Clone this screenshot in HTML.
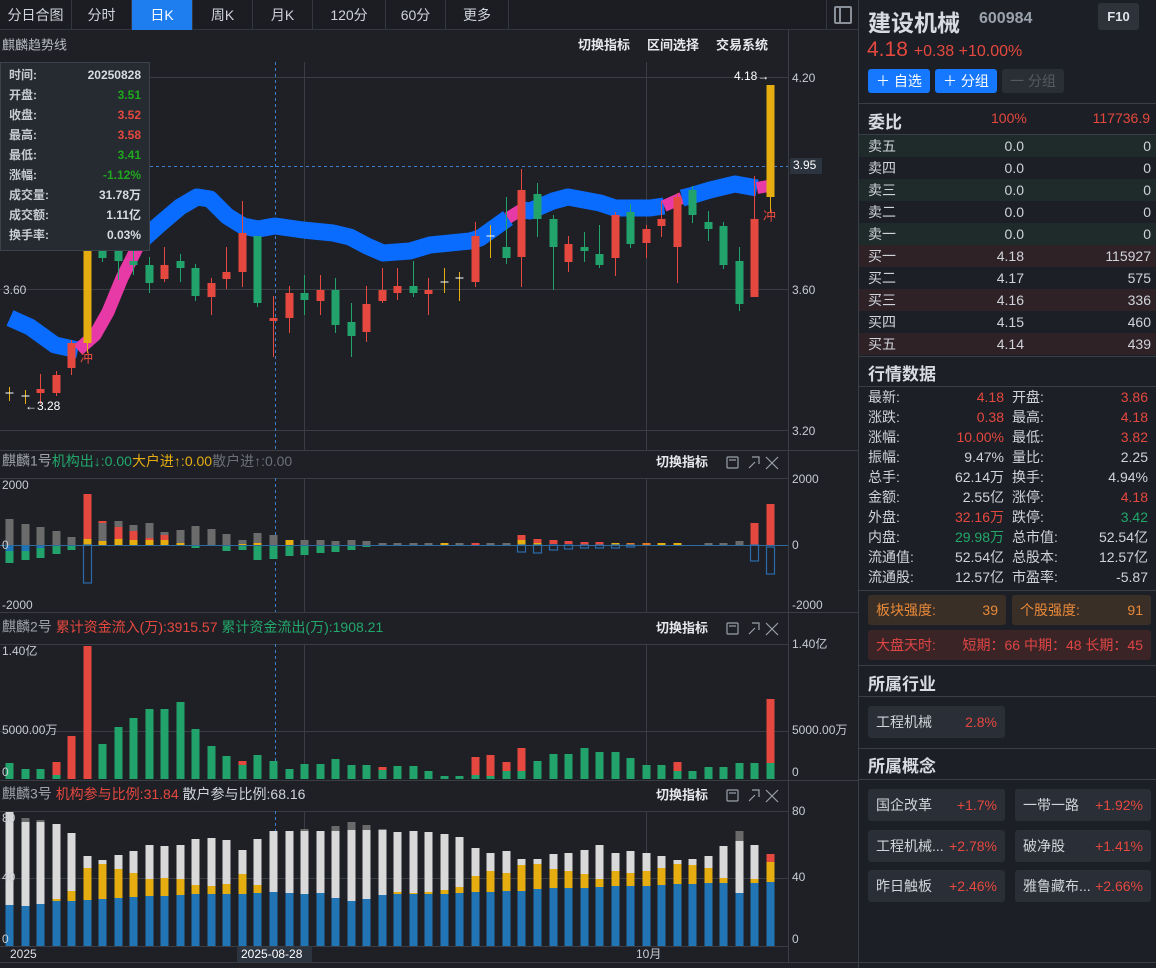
<!DOCTYPE html>
<html><head><meta charset="utf-8">
<style>
*{margin:0;padding:0;box-sizing:border-box}
body{width:1156px;height:968px;background:#1e2026;font-family:"Liberation Sans","Noto Sans CJK SC",sans-serif;color:#d0d4da;position:relative;overflow:hidden}
.a{position:absolute;white-space:nowrap}
.tabs{position:absolute;left:0;top:0;width:858px;height:30px;background:#1b1d22;border-bottom:1px solid #33373e}
.tab{position:absolute;top:0;height:30px;line-height:30px;text-align:center;font-size:14px;color:#d0d4da;border-right:1px solid #33373e}
.rp{position:absolute;left:858px;top:0;width:298px;height:968px;background:#1c1f25;border-left:1px solid #3a3e46}
.ln{position:absolute;left:0;width:298px;height:1px;background:#3a3e46}
.row{position:absolute;left:0;width:298px;height:22px;font-size:14px;line-height:22px}
.h{font-weight:bold;font-size:17px;color:#d8dce2}
.red{color:#e5483f}.grn{color:#22a86b}
.box{position:absolute;background:#2a2e36;border-radius:3px;font-size:14px;line-height:32px;height:32px}
</style></head><body>
<div class="tabs">
<div class="tab" style="left:0;width:72px">分日合图</div>
<div class="tab" style="left:72px;width:60px">分时</div>
<div class="tab" style="left:132px;width:61px;background:#1e7ef0;color:#fff">日K</div>
<div class="tab" style="left:193px;width:60px">周K</div>
<div class="tab" style="left:253px;width:60px">月K</div>
<div class="tab" style="left:313px;width:73px">120分</div>
<div class="tab" style="left:386px;width:60px">60分</div>
<div class="tab" style="left:446px;width:63px">更多</div>
<div class="a" style="left:826px;top:0;width:1px;height:30px;background:#33373e"></div>
<div class="a" style="left:834px;top:6px;width:18px;height:18px;border:2px solid #8a9099;border-radius:2px"></div>
<div class="a" style="left:839px;top:8px;width:2px;height:14px;background:#8a9099"></div>
</div>
<svg id="ch" class="a" style="left:0;top:0" width="858" height="968" xmlns="http://www.w3.org/2000/svg" font-family="Liberation Sans, Noto Sans CJK SC, sans-serif">
<g id="grid" stroke="#3a3d44" stroke-width="1">
<line x1="788.5" y1="30" x2="788.5" y2="962"/>
<line x1="0" y1="77.5" x2="788" y2="77.5"/>
<line x1="0" y1="289.5" x2="788" y2="289.5"/>
<line x1="0" y1="430.5" x2="788" y2="430.5"/>
<line x1="0" y1="450.5" x2="858" y2="450.5"/>
<line x1="0" y1="478.5" x2="788" y2="478.5"/>
<line x1="0" y1="612.5" x2="858" y2="612.5"/>
<line x1="0" y1="644.5" x2="788" y2="644.5"/>
<line x1="0" y1="731.5" x2="788" y2="731.5"/>
<line x1="0" y1="780.5" x2="858" y2="780.5"/>
<line x1="0" y1="811.5" x2="788" y2="811.5"/>
<line x1="0" y1="878.5" x2="788" y2="878.5"/>
<line x1="0" y1="946.5" x2="788" y2="946.5"/>
<line x1="0" y1="962.5" x2="858" y2="962.5"/>
<line x1="304.5" y1="62" x2="304.5" y2="450"/><line x1="304.5" y1="478" x2="304.5" y2="612"/><line x1="304.5" y1="644" x2="304.5" y2="779"/><line x1="304.5" y1="811" x2="304.5" y2="946"/>
<line x1="646.5" y1="62" x2="646.5" y2="450"/><line x1="646.5" y1="478" x2="646.5" y2="612"/><line x1="646.5" y1="644" x2="646.5" y2="779"/><line x1="646.5" y1="811" x2="646.5" y2="946"/>
</g>
<g stroke="#3f7fd0" stroke-dasharray="3,3" stroke-width="1">
<line x1="275.5" y1="62" x2="275.5" y2="450"/><line x1="275.5" y1="478" x2="275.5" y2="612"/><line x1="275.5" y1="644" x2="275.5" y2="779"/><line x1="275.5" y1="811" x2="275.5" y2="946"/>
<line x1="0" y1="166.5" x2="788" y2="166.5"/>
</g>
<g id="band" fill="none" stroke-width="17" stroke-linejoin="round">
<polyline stroke="#0a6cff" points="10,318 30,327 55,345 78,350"/>
<polyline stroke="#e83aa6" stroke-width="13" points="78,350 95,335 108,312 122,278 140,242"/>
<polyline stroke="#0a6cff" points="140,242 160,224 180,207 197,197 210,199 227,216 243,226 258,229 275,226 303,230 333,233 350,237 367,246 383,253 410,251 430,245 470,241 480,238 508,218"/>
<polyline stroke="#e83aa6" stroke-width="12" points="508,218 524,208"/>
<polyline stroke="#0a6cff" points="524,210 530,211 553,201 568,197 600,203 615,208 650,208 664,206"/>
<polyline stroke="#e83aa6" stroke-width="12" points="664,206 682,198"/>
<polyline stroke="#0a6cff" points="682,198 690,196 710,190 735,184 757,188"/>
<polyline stroke="#e83aa6" stroke-width="12" points="757,188 768,186"/>
</g>
<g id="bars"></g>
<g font-size="12" fill="#c8ccd2">
<text x="792" y="79" dominant-baseline="middle">4.20</text>
<text x="792" y="291" dominant-baseline="middle">3.60</text>
<text x="792" y="432" dominant-baseline="middle">3.20</text>
<text x="3" y="291" dominant-baseline="middle">3.60</text>
<text x="792" y="480" dominant-baseline="middle">2000</text>
<text x="792" y="546" dominant-baseline="middle">0</text>
<text x="792" y="606" dominant-baseline="middle">-2000</text>
<text x="2" y="486" dominant-baseline="middle">2000</text>
<text x="2" y="546" dominant-baseline="middle">0</text>
<text x="2" y="606" dominant-baseline="middle">-2000</text>
<text x="792" y="645" dominant-baseline="middle">1.40亿</text>
<text x="792" y="731" dominant-baseline="middle">5000.00万</text>
<text x="792" y="773" dominant-baseline="middle">0</text>
<text x="2" y="652" dominant-baseline="middle">1.40亿</text>
<text x="2" y="731" dominant-baseline="middle">5000.00万</text>
<text x="2" y="773" dominant-baseline="middle">0</text>
<text x="792" y="812" dominant-baseline="middle">80</text>
<text x="792" y="878" dominant-baseline="middle">40</text>
<text x="792" y="940" dominant-baseline="middle">0</text>
<text x="2" y="819" dominant-baseline="middle">80</text>
<text x="2" y="878" dominant-baseline="middle">40</text>
<text x="2" y="940" dominant-baseline="middle">0</text>
<text x="10" y="955" dominant-baseline="middle" fill="#e0e0e0">2025</text>
<rect x="237" y="947" width="75" height="15" fill="#2c3440"/>
<text x="241" y="955" dominant-baseline="middle" fill="#ffffff">2025-08-28</text>
<text x="636" y="955" dominant-baseline="middle">10月</text>
<rect x="790" y="158" width="32" height="16" fill="#2c3440"/>
<text x="793" y="166" dominant-baseline="middle" fill="#ffffff">3.95</text>
<text x="734" y="77" dominant-baseline="middle" fill="#ffffff">4.18→</text>
<text x="25" y="407" dominant-baseline="middle" fill="#ffffff">←3.28</text>
<text x="80" y="359" dominant-baseline="middle" fill="#e5483f" font-size="13">冲</text>
<text x="763" y="217" dominant-baseline="middle" fill="#e5483f" font-size="13">冲</text>
</g>
<g font-size="14">
<text x="2" y="46" dominant-baseline="middle" fill="#b8bcc2" font-size="13">麒麟趋势线</text>
<g fill="#e6e8ec" font-weight="bold" font-size="13">
<text x="578" y="46" dominant-baseline="middle">切换指标</text>
<text x="647" y="46" dominant-baseline="middle">区间选择</text>
<text x="716" y="46" dominant-baseline="middle">交易系统</text>
</g>
<text x="2" y="462" dominant-baseline="middle" fill="#a0a4aa">麒麟1号<tspan fill="#22a86b">机构出↓:0.00</tspan><tspan fill="#e6ad10">大户进↑:0.00</tspan><tspan fill="#6c7076">散户进↑:0.00</tspan></text>
<text x="2" y="628" dominant-baseline="middle" fill="#a0a4aa">麒麟2号 <tspan fill="#e5483f">累计资金流入(万):3915.57</tspan> <tspan fill="#22a86b">累计资金流出(万):1908.21</tspan></text>
<text x="2" y="795" dominant-baseline="middle" fill="#a0a4aa">麒麟3号 <tspan fill="#e5483f">机构参与比例:31.84</tspan> <tspan fill="#d0d4da">散户参与比例:68.16</tspan></text>
<g fill="#e6e8ec" font-weight="bold" font-size="13">
<text x="656" y="463" dominant-baseline="middle">切换指标</text>
<text x="656" y="629" dominant-baseline="middle">切换指标</text>
<text x="656" y="796" dominant-baseline="middle">切换指标</text>
</g>
</g>
<g id="icons" stroke="#9aa0a8" fill="none" stroke-width="1.2"></g>
<g>
<rect x="0.5" y="62.5" width="149" height="188" fill="#262a31" stroke="#3c414a"/>
<g font-size="12" font-weight="bold" dominant-baseline="middle">
<text x="9" y="76" fill="#c8ccd2">时间:</text><text x="141" y="76" text-anchor="end" fill="#d8dce2">20250828</text>
<text x="9" y="96" fill="#c8ccd2">开盘:</text><text x="141" y="96" text-anchor="end" fill="#1ea81e">3.51</text>
<text x="9" y="116" fill="#c8ccd2">收盘:</text><text x="141" y="116" text-anchor="end" fill="#e5483f">3.52</text>
<text x="9" y="136" fill="#c8ccd2">最高:</text><text x="141" y="136" text-anchor="end" fill="#e5483f">3.58</text>
<text x="9" y="156" fill="#c8ccd2">最低:</text><text x="141" y="156" text-anchor="end" fill="#1ea81e">3.41</text>
<text x="9" y="176" fill="#c8ccd2">涨幅:</text><text x="141" y="176" text-anchor="end" fill="#1ea81e">-1.12%</text>
<text x="9" y="196" fill="#c8ccd2">成交量:</text><text x="141" y="196" text-anchor="end" fill="#d8dce2">31.78万</text>
<text x="9" y="216" fill="#c8ccd2">成交额:</text><text x="141" y="216" text-anchor="end" fill="#d8dce2">1.11亿</text>
<text x="9" y="236" fill="#c8ccd2">换手率:</text><text x="141" y="236" text-anchor="end" fill="#d8dce2">0.03%</text>
</g></g>
</svg>

<div class="rp">
<div class="a" style="left:9px;top:4px;font-size:23px;font-weight:bold;color:#d8dce2">建设机械</div>
<div class="a" style="left:120px;top:10px;font-size:16px;font-weight:bold;color:#9aa2ad">600984</div>
<div class="a" style="left:239px;top:3px;width:41px;height:27px;background:#2e333b;border-radius:3px;font-size:13px;font-weight:bold;line-height:27px;text-align:center;color:#e0e4ea">F10</div>
<div class="a red" style="left:8px;top:38px;font-size:21px">4.18 <span style="font-size:16px">+0.38 +10.00%</span></div>
<div class="a" style="left:9px;top:69px;width:62px;height:24px;background:#1677ff;border-radius:3px;color:#fff;font-size:14px;line-height:24px;text-align:center">＋ 自选</div>
<div class="a" style="left:76px;top:69px;width:62px;height:24px;background:#1677ff;border-radius:3px;color:#fff;font-size:14px;line-height:24px;text-align:center">＋ 分组</div>
<div class="a" style="left:143px;top:69px;width:62px;height:24px;background:#2a2e35;border-radius:3px;color:#555a62;font-size:14px;line-height:24px;text-align:center">一 分组</div>
<div class="ln" style="top:103px"></div>
<div class="a h" style="left:9px;top:108px">委比</div>
<div class="a red" style="left:132px;top:110px;font-size:14px">100%</div>
<div class="a red" style="right:6px;top:110px;font-size:14px">117736.9</div>
<div class="ln" style="top:134px"></div>
<div id="ob"></div>
<div class="ln" style="top:356px"></div>
<div class="a h" style="left:9px;top:360px">行情数据</div>
<div class="ln" style="top:386px"></div>
<div id="qd"></div>
<div class="ln" style="top:590px"></div>
<div class="a" style="left:9px;top:595px;width:138px;height:30px;background:#3a2f26;border-radius:3px;color:#e8893a;font-size:14px;line-height:30px;padding:0 8px">板块强度:<span style="float:right">39</span></div>
<div class="a" style="left:153px;top:595px;width:139px;height:30px;background:#3a2f26;border-radius:3px;color:#e8893a;font-size:14px;line-height:30px;padding:0 8px">个股强度:<span style="float:right">91</span></div>
<div class="a" style="left:9px;top:630px;width:283px;height:30px;background:#3a2426;border-radius:3px;color:#e04545;font-size:14px;line-height:30px;padding:0 8px">大盘天时:<span style="float:right">短期：66 中期：48 长期：45</span></div>
<div class="ln" style="top:665px"></div>
<div class="a h" style="left:9px;top:670px">所属行业</div>
<div class="ln" style="top:696px"></div>
<div class="box" style="left:9px;top:706px;width:137px;padding:0 8px">工程机械<span class="red" style="float:right">2.8%</span></div>
<div class="ln" style="top:748px"></div>
<div class="a h" style="left:9px;top:752px">所属概念</div>
<div class="ln" style="top:779px"></div>
<div class="box" style="left:9px;top:789px;width:137px;padding:0 8px">国企改革<span class="red" style="float:right">+1.7%</span></div>
<div class="box" style="left:156px;top:789px;width:136px;padding:0 8px">一带一路<span class="red" style="float:right">+1.92%</span></div>
<div class="box" style="left:9px;top:830px;width:137px;padding:0 8px">工程机械...<span class="red" style="float:right">+2.78%</span></div>
<div class="box" style="left:156px;top:830px;width:136px;padding:0 8px">破净股<span class="red" style="float:right">+1.41%</span></div>
<div class="box" style="left:9px;top:870px;width:137px;padding:0 8px">昨日触板<span class="red" style="float:right">+2.46%</span></div>
<div class="box" style="left:156px;top:870px;width:136px;padding:0 8px">雅鲁藏布...<span class="red" style="float:right">+2.66%</span></div>
<div class="ln" style="top:962px"></div>
</div>

<script>
var X=function(i){return 9+i*15.53};
var C={r:'#e5483f',g:'#22a36b',y:'#e6ad10',G:'#6b6b6b',B:'#1f73b7',o:'#e07a20',W:'#d9d9d9',U:'#2175b5',D:'#6a6a6a'};
var s='';
function R(x,y1,y2,f,w){w=w||8;if(y2<y1){var t=y1;y1=y2;y2=t}s+='<rect x="'+(x-w/2).toFixed(1)+'" y="'+y1+'" width="'+w+'" height="'+Math.max(1,y2-y1)+'" fill="'+f+'"/>';}
function L(x,y1,y2,c){s+='<line x1="'+x.toFixed(1)+'" x2="'+x.toFixed(1)+'" y1="'+y1+'" y2="'+y2+'" stroke="'+c+'" stroke-width="1"/>';}
var K=[['c',393,387,401],['c',396,390,404],['r',389,393,374,404],['r',375,393,371,396],['r',343,368,340,375],['y',230,343,228,353],['g',235,258,230,262],['g',250,261,247,280],['g',261,265,250,275],['g',265,283,257,293],['r',265,279,247,282],['g',261,268,254,282],['g',268,296,264,301],['r',283,297,278,315],['r',272,279,247,289],['r',233,272,201,287],['g',236,303,236,307],['r',318,321,296,357],['r',293,318,286,333],['g',293,300,275,315],['r',290,301,275,315],['g',290,325,278,333],['g',322,336,303,357],['r',304,332,286,342],['r',290,301,268,303],['r',286,293,268,300],['g',286,293,261,297],['r',290,294,278,315],['c',282,268,293],['c',278,272,301],['r',236,282,222,287],['c',236,225,258],['g',247,258,197,264],['r',190,257,169,287],['g',194,219,183,237],['g',219,247,215,290],['r',244,262,236,272],['g',247,251,232,262],['g',254,265,225,268],['r',215,258,212,276],['g',212,244,204,248],['r',229,243,225,258],['r',219,226,201,237],['r',197,247,193,283],['g',190,215,186,223],['g',222,229,211,241],['g',226,265,222,269],['g',261,304,247,311],['r',219,297,176,297],['y',85,197,85,212]];
K.forEach(function(k,i){var x=Math.round(X(i))+0.5;if(k[0]=='c'){L(x,k[2],k[3],'#e6ad10');s+='<line x1="'+(x-4)+'" x2="'+(x+4)+'" y1="'+k[1]+'" y2="'+k[1]+'" stroke="#ffffff"/>';}else{L(x,k[3],k[4],C[k[0]]);R(x,k[1],k[2],C[k[0]]);}});
var P1=[[['G',519,545],['B',545,551],['g',551,563]],[['G',524,545],['B',545,551],['g',551,560]],[['G',527,545],['B',545,548],['g',548,558]],[['G',531,545],['B',545,546],['g',546,554]],[['G',537,545],['g',545,550]],[['r',494,539],['y',539,545],['O',545,583]],[['G',521,541],['r',521,523],['y',541,545]],[['G',521,527],['r',527,539],['y',539,545]],[['G',525,531],['r',531,540],['y',540,545]],[['G',523,540],['r',538,540],['y',540,545]],[['G',532,535],['r',535,540],['y',540,545]],[['G',530,543],['y',543,545]],[['G',526,545],['g',545,548]],[['G',529,545]],[['G',534,545],['g',545,551]],[['G',540,544],['y',544,545],['g',545,550]],[['G',533,543],['y',543,545],['g',545,560]],[['G',535,545],['g',545,559]],[['y',540,545],['g',545,556]],[['G',540,545],['g',545,555]],[['G',540,545],['g',545,553]],[['G',541,545],['g',545,552]],[['G',540,545],['g',545,550]],[['G',541,545],['g',545,547]],[['G',543,545]],[['G',543,545]],[['G',543,545]],[['G',543,545]],[['y',543,545]],[['G',543,545]],[['r',543,545]],[['G',543,545]],[['G',543,545]],[['r',535,540],['y',540,545],['O',545,552]],[['r',539,543],['y',543,545],['O',545,553]],[['r',540,544],['O',545,550]],[['r',541,544],['O',545,549]],[['r',542,545],['O',545,548]],[['r',542,545],['O',545,548]],[['y',543,545],['O',545,548]],[['o',543,545],['O',545,547]],[['o',543,545]],[['y',543,545]],[['y',543,545]],[],[['G',543,545]],[['G',543,545]],[['G',541,545]],[['r',523,545],['O',545,561]],[['r',504,545],['O',547,574]]];
P1.forEach(function(a,i){var x=Math.round(X(i))+0.5;a.forEach(function(sg){if(sg[0]=='O'){s+='<rect x="'+(x-4)+'" y="'+sg[1]+'" width="8" height="'+(sg[2]-sg[1])+'" fill="none" stroke="#2a6aa8" stroke-width="1.2"/>';}else R(x,sg[1],sg[2],C[sg[0]]);});});
s+='<line x1="0" x2="788" y1="545.5" y2="545.5" stroke="#2c6aa0"/>';
var P2=[[763],[769],[769],[775,762],[0,736],[0,646],[744],[727],[718],[709],[709],[702],[729],[746],[756],[765,761],[755],[761],[769],[764],[764],[759],[765],[765],[770,767],[766],[766],[771],[776],[776],[775,757],[776,755],[771,762],[771,748],[761],[754],[754],[748],[752],[752],[758],[765],[765],[771,762],[771],[767],[767],[763],[763],[763,699]];
P2.forEach(function(a,i){var x=Math.round(X(i))+0.5;if(a[0])R(x,a[0],779,C.g);if(a[1])R(x,a[1],a[0]||779,C.r);});
var P3=[[905,0,812],[906,0,822,818,'D'],[904,0,822,820,'D'],[901,899,824],[901,891,833],[900,868,856],[899,864,860],[898,869,855],[897,873,851],[896,879,845],[896,878,846],[895,879,845],[894,885,839],[894,886,838],[894,884,840],[894,874,850],[893,885,839],[892,0,831],[893,0,831],[894,0,831,829,'D'],[893,0,831],[898,0,831,826,'D'],[901,0,830,822,'D'],[899,0,830,825,'D'],[895,0,830,829,'D'],[894,892,832],[894,893,831],[894,892,832],[894,890,834],[893,887,837],[892,876,848],[892,871,853],[891,873,851],[891,865,859],[889,864,859],[888,869,854],[888,871,853],[888,874,850],[887,879,845],[886,871,853],[886,873,851],[886,871,853],[885,868,856],[884,864,860],[884,865,859],[883,868,856],[883,878,846],[893,0,841,831,'D'],[883,879,845],[882,862,862,854,'r']];
P3.forEach(function(a,i){var x=Math.round(X(i))+0.5;R(x,a[0],946,C.U);var t=a[0];if(a[1]){R(x,a[1],t,C.y);t=a[1];}if(a[2]<t){R(x,a[2],t,C.W);t=a[2];}if(a[3]){R(x,a[3],t,C[a[4]]);}});
document.getElementById('bars').innerHTML=s;
var ic='';[463,629,796].forEach(function(y){ic+='<rect x="727" y="'+(y-6)+'" width="11" height="11" rx="1"/><line x1="729" x2="736" y1="'+(y-3)+'" y2="'+(y-3)+'"/><path d="M749 '+(y+5)+' L755 '+(y-1)+' M752 '+(y-6)+' L759 '+(y-6)+' L759 '+(y+1)+'"/><path d="M766 '+(y-6)+' L778 '+(y+6)+' M778 '+(y-6)+' L766 '+(y+6)+'"/>';});
document.getElementById('icons').innerHTML=ic;
var ob=[['卖五','0.0','0',1],['卖四','0.0','0',0],['卖三','0.0','0',1],['卖二','0.0','0',0],['卖一','0.0','0',1],['买一','4.18','115927',2],['买二','4.17','575',0],['买三','4.16','336',2],['买四','4.15','460',0],['买五','4.14','439',2]];
var h='';ob.forEach(function(r,i){var bg=r[3]==1?'#1f2a2a':(r[3]==2?'#2e2226':'transparent');h+='<div class="row" style="top:'+(135+i*22)+'px;background:'+bg+'"><span class="a" style="left:9px">'+r[0]+'</span><span class="a" style="right:133px">'+r[1]+'</span><span class="a" style="right:6px">'+r[2]+'</span></div>';});
document.getElementById('ob').innerHTML=h;
var q=[['最新:','4.18','r','开盘:','3.86','r'],['涨跌:','0.38','r','最高:','4.18','r'],['涨幅:','10.00%','r','最低:','3.82','r'],['振幅:','9.47%','','量比:','2.25',''],['总手:','62.14万','','换手:','4.94%',''],['金额:','2.55亿','','涨停:','4.18','r'],['外盘:','32.16万','r','跌停:','3.42','g'],['内盘:','29.98万','g','总市值:','52.54亿',''],['流通值:','52.54亿','','总股本:','12.57亿',''],['流通股:','12.57亿','','市盈率:','-5.87','']];
h='';q.forEach(function(r,i){var c=function(k){return k=='r'?'red':(k=='g'?'grn':'')};h+='<div class="row" style="top:'+(387+i*20)+'px;height:20px;line-height:20px"><span class="a" style="left:9px">'+r[0]+'</span><span class="a '+c(r[2])+'" style="right:153px">'+r[1]+'</span><span class="a" style="left:153px">'+r[3]+'</span><span class="a '+c(r[5])+'" style="right:9px">'+r[4]+'</span></div>';});
document.getElementById('qd').innerHTML=h;
</script>
</body></html>
